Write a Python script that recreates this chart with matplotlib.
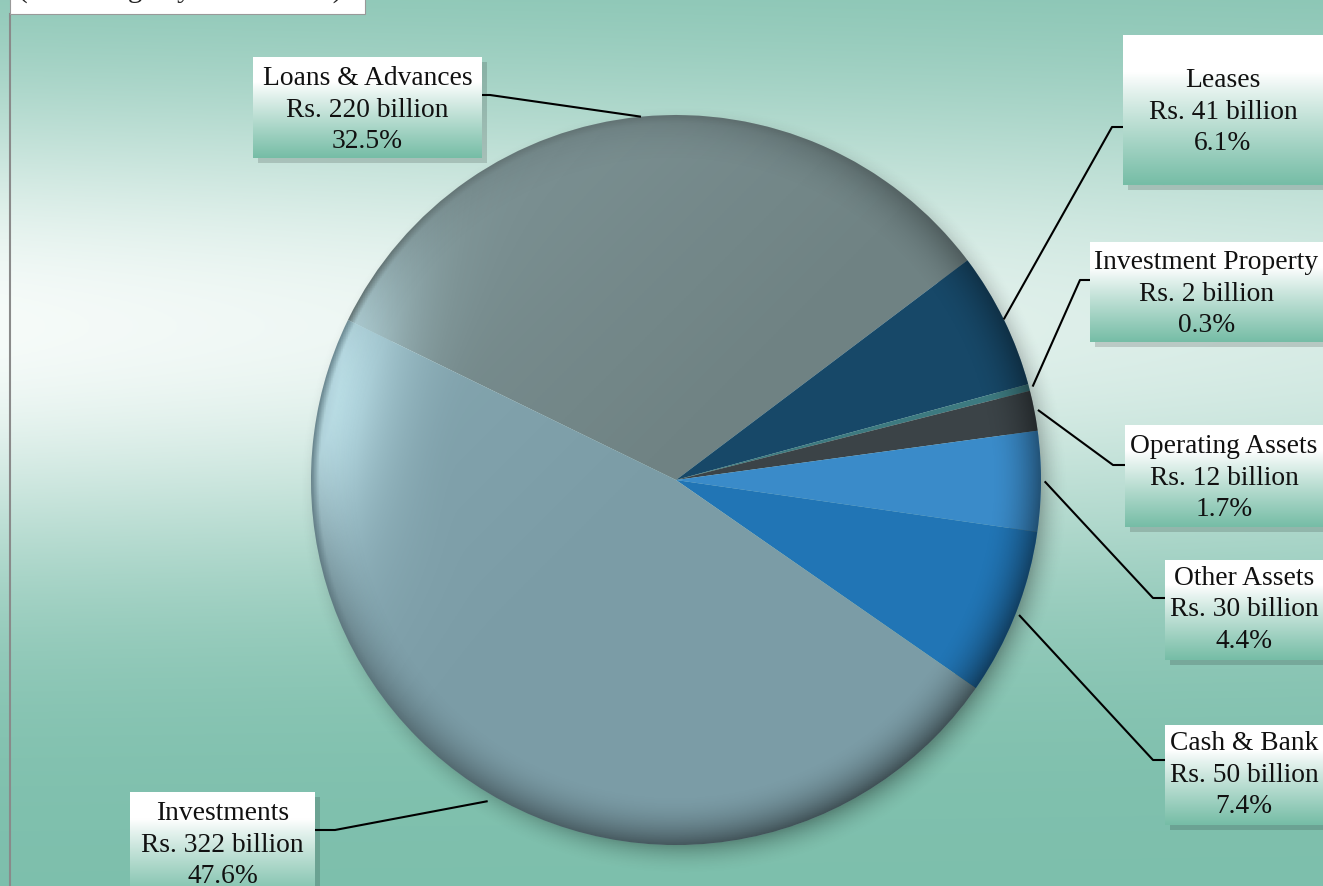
import numpy as np
import matplotlib
matplotlib.use("Agg")
import matplotlib.pyplot as plt
from matplotlib.patches import Circle, Rectangle

# data
categories = ['Loans & Advances', 'Leases', 'Investment Property', 'Operating Assets',
              'Other Assets', 'Cash & Bank', 'Investments']
values = [220, 41, 2, 12, 30, 50, 322]
pct_labels = ['32.5%', '6.1%', '0.3%', '1.7%', '4.4%', '7.4%', '47.6%']
colors = ['#6f8283', '#174868', '#3d7a80', '#3b4347', '#3a8bc9', '#2175b5', '#7b9ca6']

W, H = 1323, 886
plt.rcParams['font.family'] = ['Liberation Serif', 'DejaVu Serif']

fig = plt.figure(figsize=(W / 100, H / 100), dpi=100)
ax = fig.add_axes([0, 0, 1, 1])


def Y(y):
    # image row -> data y
    return H - y


# background gradient
yy = np.linspace(H, 0, 400)[:, None]
xx = np.linspace(0, W, 300)[None, :]
t = np.exp(-((yy - 560) / 250.0) ** 2) * (1 - 0.25 * (xx / W))
teal = np.array([125, 191, 172]) / 255
white = np.array([246, 251, 249]) / 255
bg = teal[None, None, :] * (1 - t[..., None]) + white[None, None, :] * t[..., None]
ax.imshow(bg, extent=[0, W, 0, H], origin='upper', aspect='auto', zorder=0)

# left border and clipped title box at the top
ax.plot([10, 10], [0, Y(14)], color='#8a8a8a', lw=1.5, zorder=1)
ax.add_patch(Rectangle((10, Y(14)), 355, 20, facecolor='white', edgecolor='#999999',
                       lw=0.8, zorder=1))
ax.text(18, Y(-3), '(Percentage by Asset Class)', fontsize=21, ha='left', va='baseline',
        color='#222222', zorder=2)

cx, cy, R = 676, Y(480), 365

# drop shadow around the pie
n = 500
gx = np.linspace(cx - R - 60, cx + R + 60, n)
gy = np.linspace(cy + R + 60, cy - R - 60, n)
GX, GY = np.meshgrid(gx, gy)
rs = np.hypot(GX - (cx + 8), GY - (cy - 10)) / R
sh = np.zeros((n, n, 4))
sh[..., 3] = np.clip(1 - (rs - 0.97) / 0.09, 0, 1) ** 2 * 0.3
sh[..., 3][rs < 0.9] = 0
ax.imshow(sh, extent=[gx[0], gx[-1], gy[-1], gy[0]], origin='upper', zorder=2)

wedges, _ = ax.pie(values, colors=colors, startangle=154, counterclock=False,
                   center=(cx, cy), radius=R, frame=True,
                   wedgeprops=dict(linewidth=0))
for w in wedges:
    w.set_zorder(3)

# 3D-like shading on top of the pie
r = np.hypot(GX - cx, GY - cy) / R
ang = np.degrees(np.arctan2(GY - cy, GX - cx))
dang = (ang - 168 + 180) % 360 - 180
dark = np.zeros((n, n, 4))
side = (1 + np.cos(np.radians(ang + 50))) / 2
dark[..., 3] = np.clip((r - 0.86) / 0.14, 0, 1) ** 2 * (0.08 + 0.4 * side)
light = np.ones((n, n, 4))
hl = np.exp(-(dang / 24.0) ** 2) * np.clip((r - 0.6) / 0.38, 0, 1) ** 2 * 0.85
hl += np.clip(((cx - GX) + (GY - cy)) / (2.2 * R), 0, 1) * 0.2
light[..., 3] = np.clip(hl, 0, 0.85) * np.clip((1.0 - r) / 0.02, 0, 1)
light[..., :3] = [0.82, 0.97, 1.0]
clip = Circle((cx, cy), R, transform=ax.transData)
for img in (light, dark):
    im = ax.imshow(img, extent=[gx[0], gx[-1], gy[-1], gy[0]], origin='upper', zorder=4)
    im.set_clip_path(clip)

# label boxes: (left, top, right, bottom) in image pixels, plus elbow point
boxes = [(253, 57, 482, 158), (1123, 35, 1340, 185), (1090, 242, 1340, 342),
         (1125, 425, 1340, 527), (1165, 560, 1340, 660), (1165, 725, 1340, 825),
         (130, 792, 315, 900)]
text_mid = [110, 112, 294, 478, 610, 775, 845]
elbows = [(490, 95), (1112, 127), (1080, 280), (1113, 465), (1153, 598), (1153, 760),
          (335, 830)]
anchor_r = [1.0, 1.0, 1.01, 1.01, 1.01, 1.01, 1.02]

grad = np.linspace(0, 1, 100)[:, None]
bx = np.clip((grad - 0.25) / 0.75, 0, 1) ** 0.9
box_top = np.array([1.0, 1.0, 1.0])
box_bot = np.array([118, 189, 166]) / 255
box_img = box_top[None, None, :] * (1 - bx[..., None]) + box_bot[None, None, :] * bx[..., None]

for i, (w, lab, pct) in enumerate(zip(wedges, categories, pct_labels)):
    x0, y0, x1, y1 = boxes[i]
    # shadow
    ax.add_patch(Rectangle((x0 + 5, Y(y1) - 5), x1 - x0, y1 - y0, facecolor='#000000',
                           alpha=0.15, lw=0, zorder=5))
    ax.imshow(box_img, extent=[x0, x1, Y(y1), Y(y0)], origin='upper', aspect='auto',
              zorder=6)
    mid = np.radians((w.theta1 + w.theta2) / 2)
    px = cx + anchor_r[i] * R * np.cos(mid)
    py = cy + anchor_r[i] * R * np.sin(mid)
    ex, ey = elbows[i]
    edge = x1 if ex < x0 else x0
    ax.plot([px, ex, edge], [py, Y(ey), Y(ey)], color='black', lw=1.5, zorder=5,
            solid_capstyle='butt')
    txt = f'{lab}\nRs. {values[i]} billion\n{pct}'
    tx = (x0 + min(x1, W)) / 2
    ax.text(tx, Y(text_mid[i]), txt, ha='center', va='center', fontsize=19.8,
            linespacing=1.33, color='#111111', zorder=7)

ax.set_xlim(0, W)
ax.set_ylim(0, H)
ax.set_aspect('auto')
ax.axis('off')
fig.savefig('out.png', dpi=100)
